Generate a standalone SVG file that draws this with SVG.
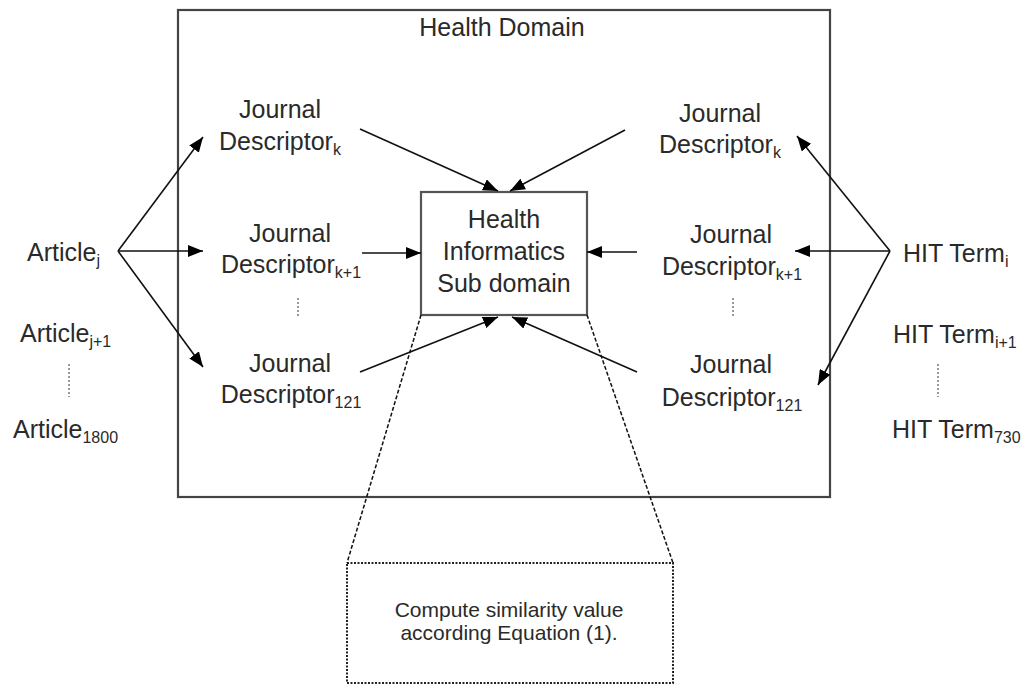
<svg xmlns="http://www.w3.org/2000/svg" width="1035" height="684" viewBox="0 0 1035 684">
<defs>
<style>
.t{font-family:"Liberation Sans",Arial,sans-serif;font-size:25px;fill:#2a2a2a}
.m{text-anchor:middle}
.s{font-size:16px}
.c{font-family:"Liberation Sans",Arial,sans-serif;font-size:21px;fill:#2a2a2a;text-anchor:middle}
.ln{stroke:#111;stroke-width:1.6;fill:none;marker-end:url(#ah)}
.ds{stroke:#111;stroke-width:1.5;fill:none;stroke-dasharray:4 2}
.dot{stroke:#999;stroke-width:2;stroke-dasharray:2 2;fill:none}
</style>
<marker id="ah" markerUnits="userSpaceOnUse" markerWidth="16" markerHeight="12" refX="15" refY="6" orient="auto">
<path d="M0,0 L15,6 L0,12 z" fill="#000"/>
</marker>
</defs>
<rect width="1035" height="684" fill="#fff"/>
<g id="health-domain">
<rect x="178" y="10" width="652" height="487" fill="none" stroke="#444" stroke-width="2.2"/>
<text class="t m" x="502" y="36">Health Domain</text>
</g>
<g id="hi-subdomain">
<rect x="421" y="192" width="166" height="123" fill="#fff" stroke="#555" stroke-width="2.2"/>
<text class="t m" x="504" y="228">Health</text>
<text class="t m" x="504" y="260">Informatics</text>
<text class="t m" x="504" y="292">Sub domain</text>
</g>
<g id="compute-box">
<rect x="347" y="563" width="326" height="120" fill="none" stroke="#222" stroke-width="2" stroke-dasharray="2 1.5"/>
<text class="c" x="509" y="617">Compute similarity value</text>
<text class="c" x="509" y="640">according Equation (1).</text>
</g>
<g id="left-jd-k">
<text class="t m" x="280" y="118">Journal</text>
<text class="t m" x="280" y="150">Descriptor<tspan class="s" dy="5">k</tspan></text>
</g>
<g id="left-jd-k1">
<text class="t m" x="290" y="242">Journal</text>
<text class="t m" x="291" y="273">Descriptor<tspan class="s" dy="5">k+1</tspan></text>
<line class="dot" x1="298" y1="298" x2="298" y2="318"/>
</g>
<g id="left-jd-121">
<text class="t m" x="290" y="372">Journal</text>
<text class="t m" x="291" y="403">Descriptor<tspan class="s" dy="5">121</tspan></text>
</g>
<g id="right-jd-k">
<text class="t m" x="720" y="122">Journal</text>
<text class="t m" x="720" y="153">Descriptor<tspan class="s" dy="5">k</tspan></text>
</g>
<g id="right-jd-k1">
<text class="t m" x="731" y="243">Journal</text>
<text class="t m" x="732" y="275">Descriptor<tspan class="s" dy="5">k+1</tspan></text>
<line class="dot" x1="733" y1="298" x2="733" y2="318"/>
</g>
<g id="right-jd-121">
<text class="t m" x="731" y="373">Journal</text>
<text class="t m" x="732" y="406">Descriptor<tspan class="s" dy="5">121</tspan></text>
</g>
<g id="articles">
<text class="t" x="27" y="261">Article<tspan class="s" dy="5">j</tspan></text>
<text class="t" x="20" y="342">Article<tspan class="s" dy="5">j+1</tspan></text>
<line class="dot" x1="69" y1="364" x2="69" y2="397"/>
<text class="t" x="13" y="438">Article<tspan class="s" dy="5">1800</tspan></text>
</g>
<g id="hit-terms">
<text class="t" x="903" y="262">HIT Term<tspan class="s" dy="5">i</tspan></text>
<text class="t" x="893" y="343">HIT Term<tspan class="s" dy="5">i+1</tspan></text>
<line class="dot" x1="938" y1="364" x2="938" y2="397"/>
<text class="t" x="892" y="438">HIT Term<tspan class="s" dy="5">730</tspan></text>
</g>
<g id="connectors">
<path class="ln" d="M118,251 L203,137"/>
<path class="ln" d="M118,251 L203,251"/>
<path class="ln" d="M118,251 L203,367"/>
<path class="ln" d="M360,129 L498,191"/>
<path class="ln" d="M362,253 L421,253"/>
<path class="ln" d="M360,372 L498,317"/>
<path class="ln" d="M625,130 L510,191"/>
<path class="ln" d="M637,252 L587,252"/>
<path class="ln" d="M637,372 L512,317"/>
<path class="ln" d="M890,251 L797,136"/>
<path class="ln" d="M890,251 L795,251"/>
<path class="ln" d="M890,251 L818,385"/>
<path class="ds" d="M421,315 L347,563"/>
<path class="ds" d="M587,315 L673,563"/>
</g>
</svg>
